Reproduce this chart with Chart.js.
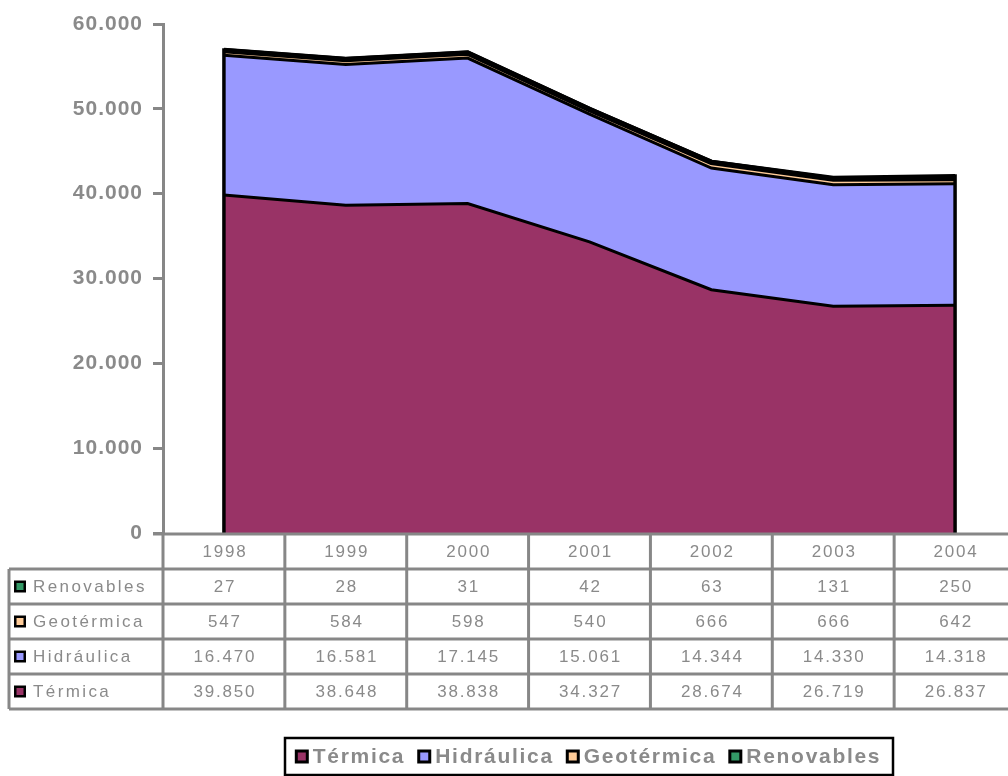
<!DOCTYPE html>
<html>
<head>
<meta charset="utf-8">
<script src="https://cdn.jsdelivr.net/npm/chart.js@4.4.1/dist/chart.umd.min.js"></script>
<style>
  html, body { margin: 0; padding: 0; background: #ffffff; overflow: hidden; }
  #wrap { position: absolute; left: 0; top: 0; width: 1016px; height: 776px; }
</style>
</head>
<body>
<div id="wrap"><canvas id="chart"></canvas></div>
<script>
// Electricity generation by source, 1998-2004
const categories = ['1998', '1999', '2000', '2001', '2002', '2003', '2004'];
const termica    = [39850, 38648, 38838, 34327, 28674, 26719, 26837];
const hidraulica = [16470, 16581, 17145, 15061, 14344, 14330, 14318];
const geotermica = [547, 584, 598, 540, 666, 666, 642];
const renovables = [27, 28, 31, 42, 63, 131, 250];
const seriesNames  = ['Térmica', 'Hidráulica', 'Geotérmica', 'Renovables'];
const seriesColors = ['#993366', '#9999FF', '#FFCC99', '#339966'];
const borderWidths = [3, 3, 5.5, 4.5];
const yTickLabels  = ['0', '10.000', '20.000', '30.000', '40.000', '50.000', '60.000'];

const seriesValues = [termica, hidraulica, geotermica, renovables];
const GRAY = '#878787';
const TEXT_GRAY = '#8a8a8a';

function fmt(n) {
  return String(n).replace(/\B(?=(\d{3})+(?!\d))/g, '.');
}

function drawKey(ctx, x, y, size, color, lw) {
  ctx.fillStyle = '#000000';
  ctx.fillRect(x, y, size, size);
  ctx.fillStyle = color;
  ctx.fillRect(x + lw, y + lw, size - 2 * lw, size - 2 * lw);
}

// Slightly spaced lettering for the axis labels
const spacedText = {
  id: 'spacedText',
  beforeDraw(chart) { chart.ctx.letterSpacing = '1px'; },
  afterDraw(chart) { chart.ctx.letterSpacing = '0px'; }
};

// Closes the stacked areas at the first and last year, then draws the data table and legend
const tableAndLegend = {
  id: 'tableAndLegend',
  afterDatasetsDraw(chart) {
    const ctx = chart.ctx, xs = chart.scales.x, ys = chart.scales.y;
    ctx.save();
    ctx.strokeStyle = '#000000';
    ctx.lineWidth = 3.5;
    [0, categories.length - 1].forEach(i => {
      const total = seriesValues.reduce((s, arr) => s + arr[i], 0);
      const px = xs.getPixelForValue(i);
      ctx.beginPath();
      ctx.moveTo(px, ys.getPixelForValue(0));
      ctx.lineTo(px, ys.getPixelForValue(total) - 2);
      ctx.stroke();
    });
    ctx.restore();
  },
  afterDraw(chart) {
    const ctx = chart.ctx, xs = chart.scales.x;
    const colW = xs.getPixelForValue(1) - xs.getPixelForValue(0);
    const left = xs.getPixelForValue(0) - colW / 2;
    const right = xs.getPixelForValue(categories.length - 1) + colW / 2;
    const rowTop = 534, rowH = 35;
    const rows = [
      { name: 'Renovables', color: seriesColors[3], vals: renovables },
      { name: 'Geotérmica', color: seriesColors[2], vals: geotermica },
      { name: 'Hidráulica', color: seriesColors[1], vals: hidraulica },
      { name: 'Térmica',    color: seriesColors[0], vals: termica }
    ];
    const bottom = rowTop + rowH * (rows.length + 1);
    const labelLeft = 9;

    ctx.save();
    ctx.strokeStyle = GRAY;
    ctx.lineWidth = 3;
    // horizontal rules
    ctx.beginPath();
    ctx.moveTo(left - 10, rowTop); ctx.lineTo(right, rowTop);
    for (let r = 1; r <= rows.length + 1; r++) {
      const y = rowTop + r * rowH;
      ctx.moveTo(labelLeft, y); ctx.lineTo(right, y);
    }
    // vertical rules
    for (let c = 0; c <= categories.length; c++) {
      const x = left + c * colW;
      ctx.moveTo(x, rowTop); ctx.lineTo(x, bottom);
    }
    ctx.moveTo(labelLeft, rowTop + rowH); ctx.lineTo(labelLeft, bottom);
    ctx.stroke();

    // cell text
    ctx.fillStyle = TEXT_GRAY;
    ctx.textBaseline = 'middle';
    ctx.textAlign = 'center';
    ctx.font = '17px "Liberation Sans", Arial, sans-serif';
    ctx.letterSpacing = '1.8px';
    categories.forEach((cat, i) => {
      const cx = xs.getPixelForValue(i) + 1;
      ctx.fillText(cat, cx, rowTop + rowH / 2 + 1);
      rows.forEach((row, r) => {
        ctx.fillText(fmt(row.vals[i]), cx, rowTop + (r + 1) * rowH + rowH / 2 + 1);
      });
    });

    // row headers
    ctx.textAlign = 'left';
    ctx.letterSpacing = '2.4px';
    rows.forEach((row, r) => {
      const cy = rowTop + (r + 1) * rowH + rowH / 2;
      drawKey(ctx, 14, cy - 6, 12, row.color, 2.5);
      ctx.fillStyle = TEXT_GRAY;
      ctx.fillText(row.name, 33, cy + 1);
    });

    // legend
    ctx.font = 'bold 21px "Liberation Sans", Arial, sans-serif';
    ctx.letterSpacing = '1.7px';
    const boxSize = 14, keyGap = 4, itemGap = 12;
    const widths = seriesNames.map(n => ctx.measureText(n).width);
    const total = widths.reduce((s, w) => s + boxSize + keyGap + w, 0) + itemGap * (seriesNames.length - 1);
    const lgTop = 738, lgBottom = 775, lgCenter = 588;
    const lgLeft = 285, lgRight = 893;
    ctx.strokeStyle = '#000000';
    ctx.lineWidth = 2.5;
    ctx.strokeRect(lgLeft, lgTop, lgRight - lgLeft, lgBottom - lgTop);
    let x = lgCenter - total / 2;
    const cy = (lgTop + lgBottom) / 2;
    seriesNames.forEach((name, i) => {
      drawKey(ctx, x, cy - boxSize / 2, boxSize, seriesColors[i], 3);
      x += boxSize + keyGap;
      ctx.fillStyle = TEXT_GRAY;
      ctx.fillText(name, x, cy + 1);
      x += widths[i] + itemGap;
    });
    ctx.restore();
  }
};

const datasets = seriesNames.map((name, i) => ({
  label: name,
  data: seriesValues[i],
  backgroundColor: seriesColors[i],
  borderColor: '#000000',
  borderWidth: borderWidths[i],
  pointRadius: 0,
  tension: 0,
  fill: i === 0 ? 'origin' : '-1'
}));

new Chart(document.getElementById('chart'), {
  type: 'line',
  data: { labels: categories, datasets },
  options: {
    responsive: true,
    maintainAspectRatio: false,
    animation: false,
    layout: { padding: { top: 24, bottom: 243, left: 0, right: 0 } },
    plugins: { legend: { display: false }, tooltip: { enabled: false } },
    scales: {
      x: { type: 'category', offset: true, display: false },
      y: {
        stacked: true,
        min: 0,
        max: 60000,
        ticks: {
          stepSize: 10000,
          color: TEXT_GRAY,
          padding: 10,
          font: { family: '"Liberation Sans", Arial, sans-serif', size: 21, weight: 'bold' },
          callback: (v) => yTickLabels[Math.round(v / 10000)]
        },
        grid: { drawOnChartArea: false, drawTicks: true, tickLength: 10, color: GRAY, lineWidth: 3 },
        border: { display: true, color: GRAY, width: 3 },
        afterFit(scale) { scale.width = 163; }
      }
    }
  },
  plugins: [spacedText, tableAndLegend]
});
</script>
</body>
</html>
